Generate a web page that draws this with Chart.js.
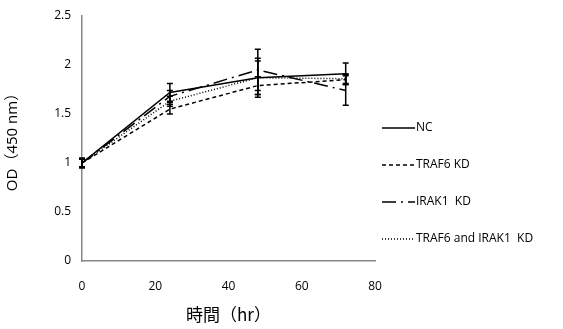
<!DOCTYPE html>
<html>
<head>
<meta charset="utf-8">
<script src="https://cdn.jsdelivr.net/npm/chart.js@4.4.1/dist/chart.umd.min.js"></script>
<style>
html, body { margin: 0; padding: 0; background: #fff; }
#wrap { width: 563px; height: 329px; }
</style>
</head>
<body>
<div id="wrap"><canvas id="odChart" width="563" height="329"></canvas></div>
<script>
// time points (hr)
var hours = [0, 24, 48, 72];

var seriesNames = ["NC", "TRAF6 KD", "IRAK1  KD", "TRAF6 and IRAK1  KD"];
var ncValues = [1.00, 1.72, 1.87, 1.91];
var traf6Values = [1.00, 1.55, 1.79, 1.85];
var irak1Values = [1.00, 1.68, 1.95, 1.74];
var bothValues = [1.00, 1.63, 1.87, 1.86];

// error (+/-)
var ncErr = [0.05, 0.09, 0.20, 0.11];
var traf6Err = [0.04, 0.05, 0.09, 0.05];
var irak1Err = [0.04, 0.06, 0.21, 0.15];
var bothErr = [0.04, 0.05, 0.17, 0.05];

var xTicks = [0, 20, 40, 60, 80];
var yTicks = [0, 0.5, 1, 1.5, 2, 2.5];

var dashes = [[], [4, 3], [14, 5, 2, 5], [1, 2]];

function pts(vals) {
	return hours.map(function (h, i) { return { x: h, y: vals[i] }; });
}

var data = {
	datasets: [
		{ label: seriesNames[0], data: pts(ncValues), err: ncErr, borderDash: dashes[0] },
		{ label: seriesNames[1], data: pts(traf6Values), err: traf6Err, borderDash: dashes[1] },
		{ label: seriesNames[2], data: pts(irak1Values), err: irak1Err, borderDash: dashes[2] },
		{ label: seriesNames[3], data: pts(bothValues), err: bothErr, borderDash: dashes[3] }
	].map(function (d) {
		d.borderColor = "#000";
		d.backgroundColor = "#000";
		d.borderWidth = 1.5;
		d.pointRadius = 0;
		d.tension = 0;
		return d;
	})
};

// error bars drawn through the scales
var errorBars = {
	id: "errorBars",
	afterDatasetsDraw: function (chart) {
		var ctx = chart.ctx, xs = chart.scales.x, ys = chart.scales.y;
		ctx.save();
		ctx.strokeStyle = "#000";
		ctx.lineWidth = 1.5;
		ctx.setLineDash([]);
		chart.data.datasets.forEach(function (ds) {
			ds.data.forEach(function (p, i) {
				var px = xs.getPixelForValue(p.x);
				var top = ys.getPixelForValue(p.y + ds.err[i]);
				var bot = ys.getPixelForValue(p.y - ds.err[i]);
				ctx.beginPath();
				ctx.moveTo(px, top); ctx.lineTo(px, bot);
				ctx.moveTo(px - 3, top); ctx.lineTo(px + 3, top);
				ctx.moveTo(px - 3, bot); ctx.lineTo(px + 3, bot);
				ctx.stroke();
			});
		});
		ctx.restore();
	}
};

// legend on the right with dash samples
var sideLegend = {
	id: "sideLegend",
	afterDraw: function (chart) {
		var ctx = chart.ctx;
		var x0 = chart.chartArea.right + 7;
		ctx.save();
		ctx.font = "12px 'Open Sans', sans-serif";
		ctx.fillStyle = "#000";
		ctx.textBaseline = "middle";
		chart.data.datasets.forEach(function (ds, i) {
			var y = 128 + i * 37;
			ctx.beginPath();
			ctx.strokeStyle = "#000";
			ctx.lineWidth = 1.5;
			ctx.setLineDash(ds.borderDash);
			ctx.moveTo(x0, y); ctx.lineTo(x0 + 33, y);
			ctx.stroke();
			ctx.fillText(ds.label, x0 + 34, y);
		});
		ctx.restore();
	}
};

var options = {
	responsive: false,
	animation: false,
	layout: { padding: { left: 0, right: 188, top: 16, bottom: 0 } },
	plugins: { legend: { display: false }, tooltip: { enabled: false } },
	scales: {
		x: {
			type: "linear", min: 0, max: 80,
			afterBuildTicks: function (s) { s.ticks = xTicks.map(function (v) { return { value: v }; }); },
			afterFit: function (s) { s.height = 68; },
			grid: { display: false, drawTicks: true, tickLength: 4, tickColor: "#868686" },
			border: { color: "#868686", width: 1.5 },
			ticks: { color: "#000", font: { family: "'Open Sans', sans-serif", size: 12 }, padding: 14, maxRotation: 0 },
			title: { display: true, text: "時間（hr）", color: "#000", font: { family: "'Noto Sans CJK JP', sans-serif", size: 17 }, padding: { top: 6 } }
		},
		y: {
			type: "linear", min: 0, max: 2.5,
			afterBuildTicks: function (s) { s.ticks = yTicks.map(function (v) { return { value: v }; }); },
			afterFit: function (s) { s.width = 82; },
			grid: { display: false, drawTicks: true, tickLength: 5, tickColor: "#868686" },
			border: { color: "#868686", width: 1.5 },
			ticks: {
				color: "#000", font: { family: "'Open Sans', sans-serif", size: 12 }, padding: 6,
				callback: function (v) { return String(v); }
			},
			title: { display: true, text: "OD（450 nm）", color: "#000", font: { family: "'Open Sans', 'Noto Sans CJK JP', sans-serif", size: 15 } }
		}
	}
};

var odChart = new Chart(document.getElementById("odChart"), {
	type: "line",
	data: data,
	options: options,
	plugins: [errorBars, sideLegend]
});
</script>
</body>
</html>
